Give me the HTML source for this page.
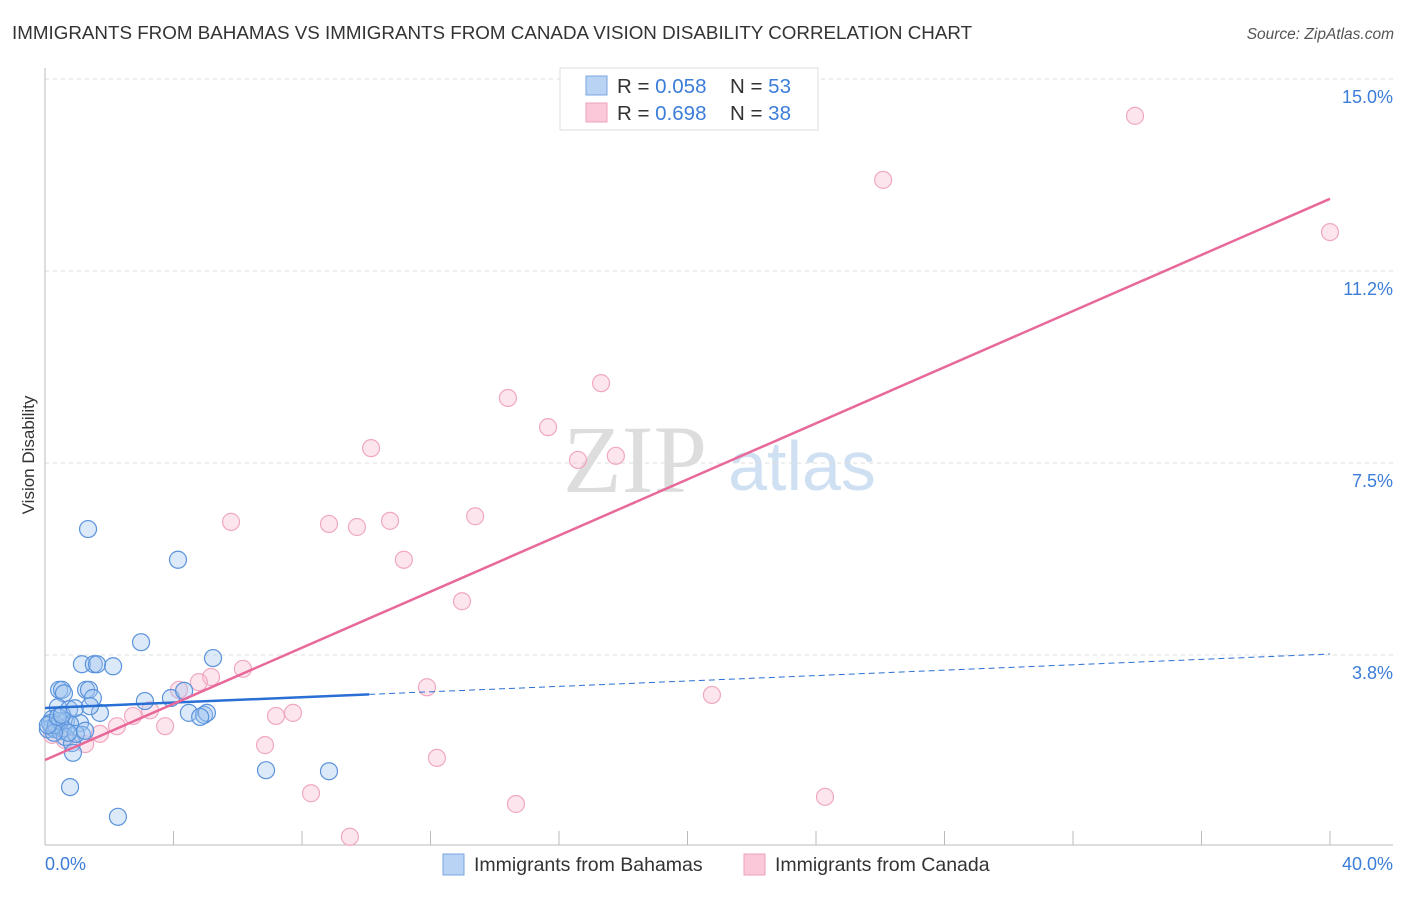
<!DOCTYPE html>
<html><head><meta charset="utf-8"><style>
body{margin:0;background:#fff;font-family:"Liberation Sans",sans-serif;}
</style></head><body>
<svg id="c" width="1406" height="892" xmlns="http://www.w3.org/2000/svg">
<text x="12" y="39" font-size="18.8" fill="#333">IMMIGRANTS FROM BAHAMAS VS IMMIGRANTS FROM CANADA VISION DISABILITY CORRELATION CHART</text>
<text x="1394" y="39" font-size="15.5" fill="#555" font-style="italic" text-anchor="end">Source: ZipAtlas.com</text>
<text x="34" y="455" font-size="17" fill="#333" text-anchor="middle" transform="rotate(-90 34 455)">Vision Disability</text>
<text x="635" y="492" font-size="96" fill="#ddd" font-family="Liberation Serif,serif" text-anchor="middle">ZIP</text>
<text x="802" y="490" font-size="70" fill="#cfe0f3" text-anchor="middle">atlas</text>
<g id="grid"></g><g id="axes"></g><g id="pts"></g><g id="lines"></g>
<g>
<rect x="560" y="68" width="258" height="62" fill="#fff" stroke="#ddd"/>
<rect x="586" y="76" width="21" height="19" fill="#b9d3f5" stroke="#7aa6e0"/>
<rect x="586" y="103" width="21" height="19" fill="#fac8d8" stroke="#eda0ba"/>
<text x="617" y="93" font-size="20.5" fill="#333">R = <tspan fill="#3b7dd8">0.058</tspan><tspan x="730">N = </tspan><tspan fill="#3b7dd8">53</tspan></text>
<text x="617" y="120" font-size="20.5" fill="#333">R = <tspan fill="#3b7dd8"> 0.698</tspan><tspan x="730">N = </tspan><tspan fill="#3b7dd8">38</tspan></text>
</g>
<g>
<rect x="443" y="854" width="21" height="21" fill="#b9d3f5" stroke="#7aa6e0"/>
<text x="474" y="871" font-size="19.5" fill="#333">Immigrants from Bahamas</text>
<rect x="744" y="854" width="21" height="21" fill="#fac8d8" stroke="#eda0ba"/>
<text x="775" y="871" font-size="19.5" fill="#333">Immigrants from Canada</text>
</g>
</svg>
<script>
const xTicks=[0,4,8,12,16,20,24,28,32,36,40];
const yTicks=[3.75,7.5,11.25,15];
const yTickLabels=["3.8%","7.5%","11.2%","15.0%"];
const xEndLabels=["0.0%","40.0%"];
const bahamasX=[1.34,4.14,2.99,5.23,1.15,1.52,1.62,2.12,0.44,0.53,1.28,1.37,0.59,1.49,3.11,3.92,4.33,0.40,0.75,1.71,4.48,4.95,5.04,0.22,0.65,1.09,0.22,0.09,0.31,0.47,0.56,0.78,1.15,0.62,0.84,0.87,6.88,8.84,0.78,2.27,0.16,0.34,0.47,0.96,1.25,0.72,0.28,0.09,0.40,0.53,0.93,1.40,4.83];
const bahamasY=[6.21,5.61,4.00,3.69,3.57,3.57,3.57,3.53,3.07,3.07,3.07,3.07,3.00,2.91,2.85,2.91,3.05,2.73,2.69,2.62,2.62,2.58,2.62,2.50,2.46,2.42,2.34,2.30,2.30,2.27,2.32,2.40,2.19,2.15,2.03,1.84,1.50,1.48,1.17,0.59,2.42,2.38,2.46,2.21,2.27,2.23,2.23,2.38,2.54,2.58,2.71,2.75,2.54];
const canadaX=[33.93,26.09,40.00,17.31,14.41,15.66,10.15,16.59,17.77,13.39,10.74,5.79,8.84,9.71,11.17,12.98,6.16,5.17,4.17,4.79,11.89,20.76,3.27,7.19,7.72,2.74,2.24,3.74,1.71,0.62,1.25,6.85,12.20,8.28,14.66,24.28,9.49,0.22];
const canadaY=[14.28,13.03,12.01,9.06,8.77,8.20,7.79,7.56,7.64,6.46,6.37,6.35,6.31,6.25,5.61,4.80,3.48,3.32,3.07,3.22,3.12,2.97,2.67,2.56,2.62,2.56,2.36,2.36,2.21,2.09,2.01,1.99,1.74,1.05,0.84,0.98,0.20,2.19];
const trendBahamas=[2.715,3.77,10.09];
const trendCanada=[1.70,12.66];
const NS="http://www.w3.org/2000/svg";
const X=v=>45+v*32.125, Y=v=>847-v*51.2;
function mk(t,a,p){const e=document.createElementNS(NS,t);for(const k in a)e.setAttribute(k,a[k]);p.appendChild(e);return e;}
const g=document.getElementById('grid'),ax=document.getElementById('axes'),pts=document.getElementById('pts'),ln=document.getElementById('lines');
yTicks.forEach((t,i)=>{
 const l=mk('line',{x1:45,x2:1393,y1:Y(t),y2:Y(t),stroke:'#ddd','stroke-dasharray':'4,4'},g);
 
 
 const tx=mk('text',{x:1393,y:Y(t)+24,'font-size':18,fill:'#3b7dd8','text-anchor':'end'},g);
 tx.textContent=yTickLabels[i];
 
 
});
const a1=mk('line',{x1:45,x2:45,y1:68,y2:845,stroke:'#bbb'},ax);


const a2=mk('line',{x1:45,x2:1393,y1:845,y2:845,stroke:'#bbb'},ax);


xTicks.forEach(t=>{
 const l=mk('line',{x1:X(t),x2:X(t),y1:831,y2:845,stroke:'#bbb'},ax);
 
 
});
[[0,'start',45],[1,'end',1393]].forEach(([i,an,x])=>{
 const tx=mk('text',{x:x,y:870,'font-size':18,fill:'#3b7dd8','text-anchor':an},ax);
 tx.textContent=xEndLabels[i];
 
 
});
canadaX.forEach((v,i)=>{
 const c=mk('circle',{cx:X(v),cy:Y(canadaY[i]),r:8.5,fill:'rgba(248,180,202,0.35)',stroke:'#f0a8c0','stroke-width':1.2},pts);
 
 
});
bahamasX.forEach((v,i)=>{
 const c=mk('circle',{cx:X(v),cy:Y(bahamasY[i]),r:8.5,fill:'rgba(160,196,240,0.38)',stroke:'#5a93dc','stroke-width':1.2},pts);
 
 
});
const slope=(trendBahamas[1]-trendBahamas[0])/40;
const bs=mk('line',{x1:X(0),y1:Y(trendBahamas[0]),x2:X(trendBahamas[2]),y2:Y(trendBahamas[0]+slope*trendBahamas[2]),stroke:'#2a6fd4','stroke-width':2.5},ln);


const bd=mk('line',{x1:X(trendBahamas[2]),y1:Y(trendBahamas[0]+slope*trendBahamas[2]),x2:X(40),y2:Y(trendBahamas[1]),stroke:'#2a6fd4','stroke-width':1,'stroke-dasharray':'6,4'},ln);


const ct=mk('line',{x1:X(0),y1:Y(trendCanada[0]),x2:X(40),y2:Y(trendCanada[1]),stroke:'#e8689a','stroke-width':2.5},ln);


</script>
</body></html>
